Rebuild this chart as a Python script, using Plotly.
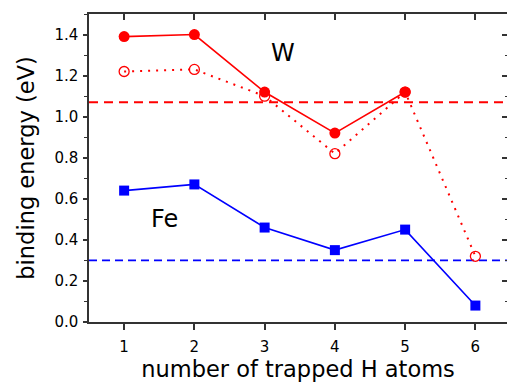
import plotly.graph_objects as go

n_h = [1, 2, 3, 4, 5, 6]
w_filled_x = [1, 2, 3, 4, 5]
w_filled = [1.39, 1.40, 1.12, 0.92, 1.12]
w_open = [1.22, 1.23, 1.10, 0.82, 1.12, 0.32]
fe = [0.64, 0.67, 0.46, 0.35, 0.45, 0.08]
w_ref = 1.07
fe_ref = 0.30
x_ticks = [1, 2, 3, 4, 5, 6]
y_ticks = [0.0, 0.2, 0.4, 0.6, 0.8, 1.0, 1.2, 1.4]
y_labels = ["0.0", "0.2", "0.4", "0.6", "0.8", "1.0", "1.2", "1.4"]

FONT = "DejaVu Sans, Verdana, sans-serif"
fig = go.Figure()

# reference dashed lines
fig.add_trace(go.Scatter(x=[0.5, 6.5], y=[w_ref, w_ref], mode="lines",
                         line=dict(color="#ff0000", width=2, dash="9px,6px"), showlegend=False))
fig.add_trace(go.Scatter(x=[0.5, 6.5], y=[fe_ref, fe_ref], mode="lines",
                         line=dict(color="#0000ff", width=1.8, dash="8px,5px"), showlegend=False))

fig.add_trace(go.Scatter(x=n_h, y=w_open, mode="lines+markers",
                         line=dict(color="#ff0000", width=2, dash="2px,6px"),
                         marker=dict(symbol="circle-open", size=10, color="#ff0000", line=dict(width=1.3)),
                         showlegend=False))
fig.add_trace(go.Scatter(x=w_filled_x, y=w_filled, mode="lines+markers",
                         line=dict(color="#ff0000", width=1.6),
                         marker=dict(symbol="circle", size=11, color="#ff0000"),
                         showlegend=False))
fig.add_trace(go.Scatter(x=n_h, y=fe, mode="lines+markers",
                         line=dict(color="#0000ff", width=1.6),
                         marker=dict(symbol="square", size=10, color="#0000ff"),
                         showlegend=False))

# dummy trace for top/right axes
fig.add_trace(go.Scatter(x=[1], y=[0], xaxis="x2", yaxis="y2", mode="markers",
                         marker=dict(opacity=0), showlegend=False, hoverinfo="skip"))

fig.add_annotation(x=3.26, y=1.31, text="W", showarrow=False,
                   font=dict(family=FONT, size=24, color="black"))
fig.add_annotation(x=1.58, y=0.50, text="Fe", showarrow=False,
                   font=dict(family=FONT, size=24, color="black"))

fig.update_layout(
    width=507, height=382,
    margin=dict(l=89, r=0, t=14, b=60, autoexpand=False),
    paper_bgcolor="white", plot_bgcolor="white",
    font=dict(family=FONT, color="black"),
    xaxis=dict(range=[0.5, 6.45], tickvals=x_ticks, ticks="outside", ticklen=6,
               tickwidth=1.5, tickcolor="#333", showline=True, linecolor="#333", linewidth=1.5,
               showgrid=False, zeroline=False, tickfont=dict(size=15, family=FONT),
               ticklabelstandoff=4, automargin=False,
               title=dict(text="number of trapped H atoms", font=dict(size=22.5, family=FONT), standoff=8)),
    yaxis=dict(range=[0, 1.5], tickvals=y_ticks, ticktext=y_labels, ticks="outside", ticklen=4,
               tickwidth=1.5, tickcolor="#333", showline=True, linecolor="#333", linewidth=1.5,
               showgrid=False, zeroline=False, tickfont=dict(size=15, family=FONT),
               ticklabelstandoff=2, automargin=False,
               minor=dict(dtick=0.1, tick0=0, ticks="outside", ticklen=3, tickcolor="#333", tickwidth=1.2),
               title=dict(text="binding energy (eV)", font=dict(size=22.5, family=FONT), standoff=14)),
    xaxis2=dict(range=[0.5, 6.45], overlaying="x", side="top", tickvals=x_ticks, ticks="inside",
                ticklen=6, tickwidth=1.5, tickcolor="#333", showline=True, linecolor="#333",
                linewidth=1.5, showticklabels=False, showgrid=False, zeroline=False),
    yaxis2=dict(range=[0, 1.5], overlaying="y", side="right", tickvals=y_ticks, ticks="inside",
                ticklen=5, tickwidth=1.5, tickcolor="#333", showline=False,
                showticklabels=False, showgrid=False, zeroline=False,
                minor=dict(dtick=0.1, tick0=0, ticks="inside", ticklen=2, tickcolor="#333", tickwidth=1.2)),
)

fig.write_html("out.html", config={"displayModeBar": False},
               post_script="document.body.style.margin='0';document.body.style.overflow='hidden';")
